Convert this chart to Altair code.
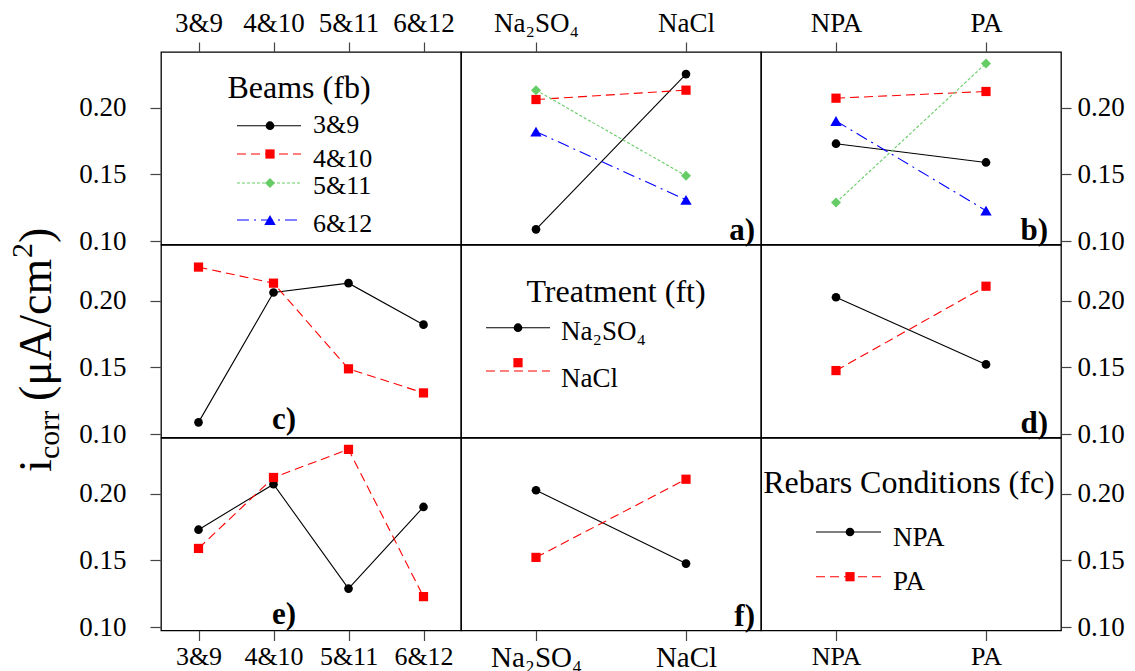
import altair as alt
import pandas as pd

# ---------------- data ----------------
beams = ["3&9", "4&10", "5&11", "6&12"]
treatments = ["Na₂SO₄", "NaCl"]
conditions = ["NPA", "PA"]

# mean i_corr per beam pair, by treatment (panels a and c)
beam_na2so4 = [0.109, 0.206, 0.213, 0.182]
beam_nacl = [0.225, 0.213, 0.149, 0.131]
# mean i_corr per beam pair, by rebar condition (panels b and e)
beam_npa = [0.173, 0.207, 0.129, 0.190]
beam_pa = [0.159, 0.212, 0.233, 0.123]
# mean i_corr per treatment, by rebar condition (panels d and f): [NPA, PA]
na2so4_by_cond = [0.2025, 0.1523]
nacl_by_cond = [0.1477, 0.2107]

y_ticks = [0.10, 0.15, 0.20]
y_domain = [0.0977, 0.2415]

FONT = "Liberation Serif"
W, H = 300, 192.5

beam_styles = {
    "3&9": dict(color="black", dash=None, shape="circle", size=75),
    "4&10": dict(color="#ff0000", dash=[9, 5], shape="square", size=85),
    "5&11": dict(color="#66cc66", dash=[3, 2], shape="diamond", size=100),
    "6&12": dict(color="#0000ff", dash=[12, 5, 2, 5], shape="triangle-up", size=130),
}
treat_styles = {
    "Na₂SO₄": dict(color="black", dash=None, shape="circle", size=75),
    "NaCl": dict(color="#ff0000", dash=[9, 5], shape="square", size=85),
}
cond_styles = {
    "NPA": dict(color="black", dash=None, shape="circle", size=75),
    "PA": dict(color="#ff0000", dash=[9, 5], shape="square", size=85),
}


def left_axis():
    return alt.Axis(orient="left", values=y_ticks, format=".2f", tickSize=11,
                    labelPadding=24, labelFontSize=27, title=None, labelOverlap=False)


def right_axis():
    return alt.Axis(orient="right", values=y_ticks, format=".2f", tickSize=10,
                    labelPadding=6, labelFontSize=27, title=None, labelOverlap=False)


def top_axis(fs=27):
    return alt.Axis(orient="top", labelAngle=0, tickSize=10, labelPadding=5,
                    labelFontSize=fs, title=None, labelOverlap=False)


def bottom_axis(fs=27):
    return alt.Axis(orient="bottom", labelAngle=0, tickSize=10, labelPadding=3,
                    labelFontSize=fs, title=None, labelOverlap=False)


def enc(domain, xaxis, yaxis):
    return dict(
        x=alt.X("x:N", scale=alt.Scale(type="point", domain=domain, padding=0.5),
                axis=xaxis, sort=domain),
        y=alt.Y("y:Q", scale=alt.Scale(domain=y_domain, nice=False, zero=False),
                axis=yaxis),
    )


def series_layers(xcats, series, styles, xaxis, yaxis):
    layers = []
    for name, vals in series.items():
        df = pd.DataFrame({"x": xcats, "y": vals})
        st = styles[name]
        base = alt.Chart(df).encode(**enc(xcats, xaxis, yaxis))
        lk = dict(color=st["color"], strokeWidth=1.1)
        if st["dash"]:
            lk["strokeDash"] = st["dash"]
        layers.append(base.mark_line(**lk))
        layers.append(base.mark_point(filled=True, opacity=1, shape=st["shape"],
                                      size=st["size"], color=st["color"]))
    return layers


def axis_holder(xcats, xaxis, yaxis):
    df = pd.DataFrame({"x": xcats, "y": [0.15] * len(xcats)})
    return alt.Chart(df).mark_point(opacity=0).encode(**enc(xcats, xaxis, yaxis))


one = pd.DataFrame({"k": [0]})


def txt(label, x, y, size, align="left", bold=False, angle=None):
    kw = dict(text=label, align=align, baseline="alphabetic", font=FONT,
              fontSize=size, color="black")
    if bold:
        kw["fontWeight"] = "bold"
    if angle is not None:
        kw["angle"] = angle
    return alt.Chart(one).mark_text(**kw).encode(x=alt.value(x), y=alt.value(y))


def legend_item(st, x1, x2, xm, yl, ym, tx, ty, label, fs):
    rk = dict(color=st["color"], strokeWidth=1.1)
    if st["dash"]:
        rk["strokeDash"] = st["dash"]
    rule = alt.Chart(one).mark_rule(**rk).encode(
        x=alt.value(x1), x2=alt.value(x2), y=alt.value(yl))
    pt = alt.Chart(one).mark_point(filled=True, opacity=1, shape=st["shape"],
                                   size=st["size"], color=st["color"]).encode(
        x=alt.value(xm), y=alt.value(ym))
    return [rule, pt, txt(label, tx, ty, fs)]


# ---------------- panels ----------------
# (1,1) beams legend
p11 = [axis_holder(beams, top_axis(27), left_axis()), txt("Beams (fb)", 138, 46, 32, align="center")]
leg_rows = [(73.7, 81), (102, 115), (131, 142), (168, 180)]
for b, (yl, ty) in zip(beams, leg_rows):
    p11 += legend_item(beam_styles[b], 76, 140, 109, yl, yl, 152, ty, b, 26)
p11 = alt.layer(*p11).properties(width=W, height=H)

# (1,2) panel a
p12 = series_layers(treatments, {b: [beam_na2so4[i], beam_nacl[i]] for i, b in enumerate(beams)},
                    beam_styles, top_axis(27), None)
p12 = alt.layer(*p12, txt("a)", 294, 188, 31, align="right", bold=True)).properties(width=W, height=H)

# (1,3) panel b
p13 = series_layers(conditions, {b: [beam_npa[i], beam_pa[i]] for i, b in enumerate(beams)},
                    beam_styles, top_axis(27), right_axis())
p13 = alt.layer(*p13, txt("b)", 287, 188, 31, align="right", bold=True)).properties(width=W, height=H)

# (2,1) panel c + y title (panel origin is at x=158, y=244 of the page)
p21 = series_layers(beams, {"Na₂SO₄": beam_na2so4, "NaCl": beam_nacl},
                    treat_styles, None, left_axis())
ytitle = [
    txt("i", -110, 227, 46, angle=270),
    txt("corr", -102, 214, 30, angle=270),
    txt("(μA/cm", -110, 156, 46, angle=270),
    txt("2", -129, 13, 30, angle=270),
    txt(")", -110, -2, 46, angle=270),
]
p21 = alt.layer(*p21, txt("c)", 123, 184, 31, align="center", bold=True), *ytitle).properties(width=W, height=H)

# (2,2) treatment legend
p22 = [txt("Treatment (ft)", 155, 57, 32, align="center")]
p22 += legend_item(treat_styles["Na₂SO₄"], 25, 89, 57, 82.7, 82.7, 100, 95, "Na₂SO₄", 27)
p22 += legend_item(treat_styles["NaCl"], 25, 89, 57, 126, 117.7, 100, 141.7, "NaCl", 27)
p22 = alt.layer(*p22).properties(width=W, height=H)

# (2,3) panel d
p23 = series_layers(conditions, {"Na₂SO₄": na2so4_by_cond, "NaCl": nacl_by_cond},
                    treat_styles, None, right_axis())
p23 = alt.layer(*p23, txt("d)", 287, 188, 31, align="right", bold=True)).properties(width=W, height=H)

# (3,1) panel e
p31 = series_layers(beams, {"NPA": beam_npa, "PA": beam_pa},
                    cond_styles, bottom_axis(26), left_axis())
p31 = alt.layer(*p31, txt("e)", 123, 186, 31, align="center", bold=True)).properties(width=W, height=H)

# (3,2) panel f
p32 = series_layers(treatments,
                    {"NPA": [na2so4_by_cond[0], nacl_by_cond[0]],
                     "PA": [na2so4_by_cond[1], nacl_by_cond[1]]},
                    cond_styles, bottom_axis(29), None)
p32 = alt.layer(*p32, txt("f)", 294, 188, 31, align="right", bold=True)).properties(width=W, height=H)

# (3,3) rebar legend
p33 = [axis_holder(conditions, bottom_axis(26), right_axis()),
       txt("Rebars Conditions (fc)", 148, 55, 32, align="center")]
p33 += legend_item(cond_styles["NPA"], 55, 120, 89, 94, 94, 132, 108, "NPA", 27)
p33 += legend_item(cond_styles["PA"], 55, 120, 89, 138.7, 138.7, 132, 152, "PA", 27)
p33 = alt.layer(*p33).properties(width=W, height=H)

chart = alt.concat(p11, p12, p13, p21, p22, p23, p31, p32, p33,
                   columns=3, spacing=0, bounds="flush").resolve_scale(
    x="independent", y="independent"
).properties(
    padding={"left": 7, "top": 8, "right": 5, "bottom": 0}
).configure_view(
    stroke="black", strokeWidth=1.3
).configure_axis(
    labelFont=FONT, labelColor="black", tickColor="#444", tickWidth=1.2,
    domain=False, grid=False
)

chart.save("out.html", embed_options={"renderer": "svg", "actions": False})
